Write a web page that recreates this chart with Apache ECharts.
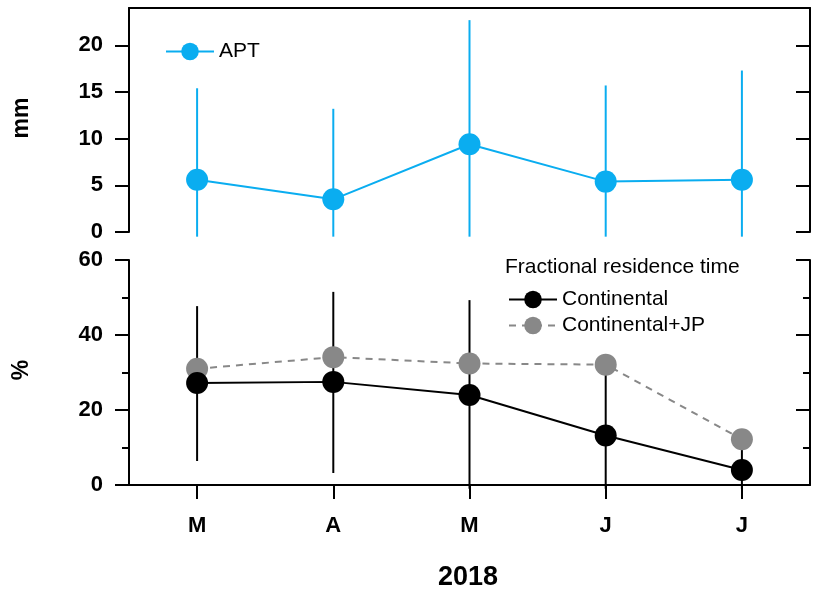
<!DOCTYPE html>
<html>
<head>
<meta charset="utf-8">
<script src="https://cdn.jsdelivr.net/npm/echarts@6/dist/echarts.min.js"></script>
<style>html,body{margin:0;background:#fff}#main{width:818px;height:595px}</style>
</head>
<body>
<div id="main"></div>
<script>
var months = ['M', 'A', 'M', 'J', 'J'];
var aptMean = [5.6, 3.5, 9.4, 5.4, 5.6];
var aptLow = [-0.5, -0.5, -0.5, -0.5, -0.5];
var aptHigh = [15.4, 13.2, 22.7, 15.7, 17.3];
var contMean = [27.2, 27.5, 24.0, 13.2, 4.0];
var contLow = [6.4, 3.2, -1, -1, -1];
var contHigh = [47.7, 51.5, 49.3, 30.7, 14.0];
var contJp = [31.0, 34.1, 32.4, 32.1, 12.2];

var FONT = 'Liberation Sans';
var blue = '#0aadf0';

function bars(low, high) {
    return low.map(function (l, i) { return [i, l, high[i]]; });
}
function errSeries(xi, yi, data, color) {
    return {
        type: 'custom', xAxisIndex: xi, yAxisIndex: yi, data: data, silent: true, z: 1,
        clip: false,
        renderItem: function (params, api) {
            var a = api.coord([api.value(0), api.value(1)]);
            var b = api.coord([api.value(0), api.value(2)]);
            return { type: 'line', shape: { x1: a[0], y1: a[1], x2: b[0], y2: b[1] },
                style: { stroke: color, lineWidth: 2 } };
        }
    };
}
var lbl = { fontFamily: FONT, fontSize: 22, fontWeight: 'bold', color: '#000' };
function yAx(grid, min, max, interval, pos, minor) {
    return {
        type: 'value', gridIndex: grid, min: min, max: max, interval: interval, position: pos,
        axisLine: { show: true, lineStyle: { color: '#000', width: 2 } },
        axisTick: { show: true, inside: pos === 'right', length: 14, lineStyle: { color: '#000', width: 2 } },
        minorTick: { show: minor, splitNumber: 2, length: 7, lineStyle: { color: '#000', width: 2 } },
        axisLabel: pos === 'left' ? Object.assign({ margin: 26, showMaxLabel: max % interval === 0 }, lbl) : { show: false },
        splitLine: { show: false }
    };
}

var chart = echarts.init(document.getElementById('main'));
chart.setOption({
    animation: false,
    grid: [
        { left: 129, right: 8, top: 8, height: 224 },
        { left: 129, right: 8, top: 260, height: 225 }
    ],
    xAxis: [
        { type: 'category', gridIndex: 0, data: months, position: 'top',
          axisLine: { show: true, onZero: false, lineStyle: { color: '#000', width: 2 } },
          axisTick: { show: false }, axisLabel: { show: false } },
        { type: 'category', gridIndex: 1, data: months, position: 'bottom',
          axisLine: { show: true, onZero: false, lineStyle: { color: '#000', width: 2 } },
          axisTick: { show: true, alignWithLabel: true, length: 14, lineStyle: { color: '#000', width: 2 } },
          axisLabel: Object.assign({ margin: 30 }, lbl) }
    ],
    yAxis: [
        yAx(0, 0, 24, 5, 'left', false),
        yAx(0, 0, 24, 5, 'right', false),
        yAx(1, 0, 60, 20, 'left', true),
        yAx(1, 0, 60, 20, 'right', true)
    ],
    legend: [
        { data: ['APT'], left: 160, top: 36, itemWidth: 48, itemHeight: 22, itemGap: 8,
          textStyle: { fontFamily: FONT, fontSize: 21, color: '#000' } },
        { data: ['Continental', 'Continental+JP'], orient: 'vertical', left: 503, top: 284,
          itemWidth: 48, itemHeight: 22, itemGap: 5,
          textStyle: { fontFamily: FONT, fontSize: 21, color: '#000' } }
    ],
    graphic: [
        { type: 'text', left: 505, top: 257, style: { text: 'Fractional residence time', fontFamily: FONT, fontSize: 21, fill: '#000' } },
        { type: 'text', x: 22, y: 118, rotation: Math.PI / 2, style: { text: 'mm', fontFamily: FONT, fontSize: 23, fontWeight: 'bold', fill: '#000', align: 'center', verticalAlign: 'middle' } },
        { type: 'text', x: 22, y: 370, rotation: Math.PI / 2, style: { text: '%', fontFamily: FONT, fontSize: 23, fontWeight: 'bold', fill: '#000', align: 'center', verticalAlign: 'middle' } },
        { type: 'text', x: 468, y: 578, style: { text: '2018', fontFamily: FONT, fontSize: 27, fontWeight: 'bold', fill: '#000', align: 'center', verticalAlign: 'middle' } }
    ],
    series: [
        errSeries(0, 0, bars(aptLow, aptHigh), blue),
        errSeries(1, 2, bars(contLow, contHigh), '#000'),
        { name: 'APT', type: 'line', xAxisIndex: 0, yAxisIndex: 0, data: aptMean, symbol: 'circle', symbolSize: 22,
          itemStyle: { color: blue }, lineStyle: { color: blue, width: 2 }, z: 3 },
        { name: 'Continental+JP', type: 'line', xAxisIndex: 1, yAxisIndex: 2, data: contJp, symbol: 'circle', symbolSize: 22,
          itemStyle: { color: '#888' }, lineStyle: { color: '#888', width: 2, type: [7, 6] }, z: 3 },
        { name: 'Continental', type: 'line', xAxisIndex: 1, yAxisIndex: 2, data: contMean, symbol: 'circle', symbolSize: 22,
          itemStyle: { color: '#000' }, lineStyle: { color: '#000', width: 2 }, z: 4 }
    ]
});
</script>
</body>
</html>
